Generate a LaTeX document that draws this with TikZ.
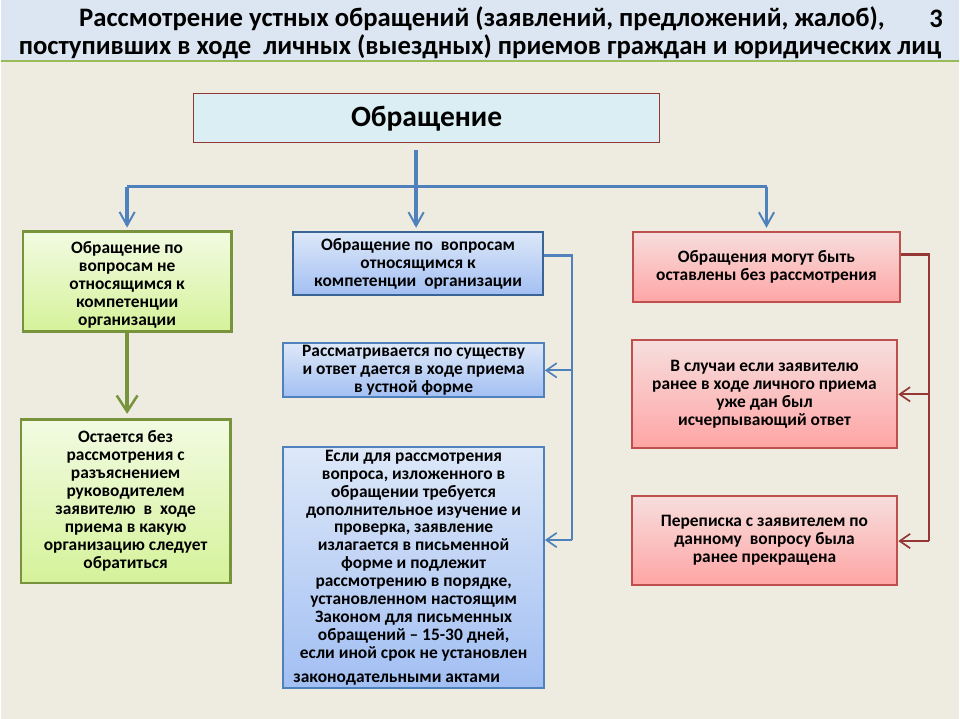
\documentclass[tikz,border=0pt]{standalone}
\usepackage{fontspec}
\setmainfont{Carlito}
\usepackage{tikz}
\usetikzlibrary{positioning,arrows.meta,calc}

\definecolor{pagebg}{HTML}{EEECE1}
\definecolor{headbg}{HTML}{DCE6F2}
\definecolor{headln}{HTML}{9BBB59}
\definecolor{topfill}{HTML}{DAEEF3}
\definecolor{topdraw}{HTML}{943634}
\definecolor{grdraw}{HTML}{77933C}
\definecolor{grtop}{HTML}{F2FBE2}
\definecolor{grbot}{HTML}{D5F29A}
\definecolor{bldraw}{HTML}{4F81BD}
\definecolor{bldark}{HTML}{3A6396}
\definecolor{bltop}{HTML}{DDE8F8}
\definecolor{blbot}{HTML}{A2BFF3}
\definecolor{rddraw}{HTML}{C0504D}
\definecolor{rdline}{HTML}{953735}
\definecolor{rdtop}{HTML}{F6DEDD}
\definecolor{rdbot}{HTML}{FFA5A5}

\newdimen\pxu
\pxu=0.025cm

\begin{document}
\begin{tikzpicture}[
    x=0.025cm, y=-0.025cm,
    font=\bfseries\fontsize{12.4}{12.8}\selectfont,
    title/.style  ={inner sep=0pt, font=\bfseries\fontsize{19}{19.2}\selectfont},
    topbox/.style ={draw=topdraw, line width=0.6pt, fill=topfill, align=center, inner sep=0pt},
    grbox/.style  ={draw=grdraw, line width=1.8pt, top color=grtop, bottom color=grbot, align=center, inner sep=0pt},
    blbox/.style  ={draw=bldraw, line width=1.4pt, top color=bltop, bottom color=blbot, align=center, inner sep=0pt},
    rdbox/.style  ={draw=rddraw, line width=1.4pt, top color=rdtop, bottom color=rdbot, align=center, inner sep=0pt},
    trunk/.style  ={draw=bldraw, line width=2.6pt},
    down/.style   ={-{Straight Barb[length=3.4mm,width=3.8mm,line width=1.4pt]}, draw=bldraw, line width=2.4pt},
    bline/.style  ={draw=bldraw, line width=1.6pt},
    bleft/.style  ={-{Straight Barb[length=2.6mm,width=3.6mm,line width=1.2pt]}, draw=bldraw, line width=1.6pt},
    rline/.style  ={draw=rdline, line width=1.6pt},
    rleft/.style  ={-{Straight Barb[length=2.6mm,width=3.6mm,line width=1.2pt]}, draw=rdline, line width=1.6pt},
    gdown/.style  ={-{Straight Barb[length=4mm,width=5.2mm,line width=1.8pt]}, draw=grdraw, line width=2.8pt},
  ]
  % page and header band
  \fill[pagebg] (0,0) rectangle (960,720);
  \fill[headbg] (0,0) rectangle (960,61);
  \draw[headln, line width=1.2pt] (0,61) -- (960,61);
  \useasboundingbox (0,0) rectangle (960,720);
  \node[title] (ob-title1) at (482,19) {Рассмотрение устных обращений (заявлений, предложений, жалоб),};
  \node[title] (ob-title2) at (480,47) {поступивших в ходе\ \ личных (выездных) приемов граждан и юридических лиц};
  \node[title] (ob-num) at (937,19) {3};
  % top box
  \node[topbox, minimum width=467\pxu, minimum height=49\pxu, font=\bfseries\fontsize{21}{22}\selectfont] (ob-top) at (426.5,118.5) {Обращение};
  % left column
  \node[grbox, minimum width=209\pxu, minimum height=100\pxu] (ob-g1) at (126.5,282)
    {\rule{0pt}{14pt}Обращение по\\вопросам не\\относящимся к\\компетенции\\организации};
  \node[grbox, minimum width=210\pxu, minimum height=164\pxu] (ob-g2) at (125,502)
    {Остается без\\рассмотрения с\\разъяснением\\руководителем\\заявителю\ \ в\ \ ходе\\приема в какую\\организацию следует\\обратиться};
  % middle column
  \node[blbox, draw=bldark, minimum width=250\pxu, minimum height=64\pxu] (ob-b1) at (418,264)
    {Обращение по\ \ вопросам\\относящимся к\\компетенции\ \ организации};
  \node[blbox, minimum width=261\pxu, minimum height=54\pxu] (ob-b2) at (413.5,371)
    {Рассматривается по существу\\и ответ дается в ходе приема\\в устной форме};
  \node[blbox, minimum width=261\pxu, minimum height=241\pxu] (ob-b3) at (413.5,568.5)
    {Если для рассмотрения\\вопроса, изложенного в\\обращении требуется\\дополнительное изучение и\\проверка, заявление\\излагается в письменной\\форме и подлежит\\рассмотрению в порядке,\\установленном настоящим\\Законом для письменных\\обращений -- 15-30 дней,\\если иной срок не установлен\\[4pt]законодательными актами\hspace*{24pt}};
  % right column
  \node[rdbox, minimum width=268\pxu, minimum height=71\pxu] (ob-r1) at (767,267.5)
    {Обращения могут быть\\оставлены без рассмотрения};
  \node[rdbox, minimum width=266\pxu, minimum height=108\pxu] (ob-r2) at (765,395)
    {В случаи если заявителю\\ранее в ходе личного приема\\уже дан был\\исчерпывающий ответ};
  \node[rdbox, minimum width=266\pxu, minimum height=89\pxu] (ob-r3) at (765,541.5)
    {Переписка с заявителем по\\данному\ \ вопросу была\\ранее прекращена};
  % junction points
  \coordinate (hub)   at (416,187);
  \coordinate (b-top) at (572,256);
  \coordinate (b-bot) at (572,541);
  \coordinate (r-top) at (930,255);
  \coordinate (r-bot) at (930,542);
  % trunk and fan-out
  \draw[trunk, shorten <=5pt] (hub |- ob-top.south) -- (hub);
  \draw[trunk] (ob-g1.north |- hub) -- (ob-r1.north |- hub);
  \draw[down] (ob-g1.north |- hub) -- ([yshift=2pt]ob-g1.north);
  \draw[down] (hub) -- ([yshift=2pt]hub |- ob-b1.north);
  \draw[down] (ob-r1.north |- hub) -- ([yshift=2pt]ob-r1.north);
  % green drop
  \draw[gdown] (ob-g1.south) -- ([yshift=3pt]ob-g1.south |- ob-g2.north);
  % blue side rail
  \draw[bline] (b-top -| ob-b1.east) -- (b-top) -- (b-bot);
  \draw[bleft] (b-top |- ob-b2.east) -- (ob-b2.east);
  \draw[bleft] (b-bot) -- (b-bot -| ob-b3.east);
  % red side rail
  \draw[rline] (r-top -| ob-r1.east) -- (r-top) -- (r-bot);
  \draw[rleft] (r-top |- ob-r2.east) -- (ob-r2.east);
  \draw[rleft] (r-bot) -- (r-bot -| ob-r3.east);
\end{tikzpicture}
\end{document}
